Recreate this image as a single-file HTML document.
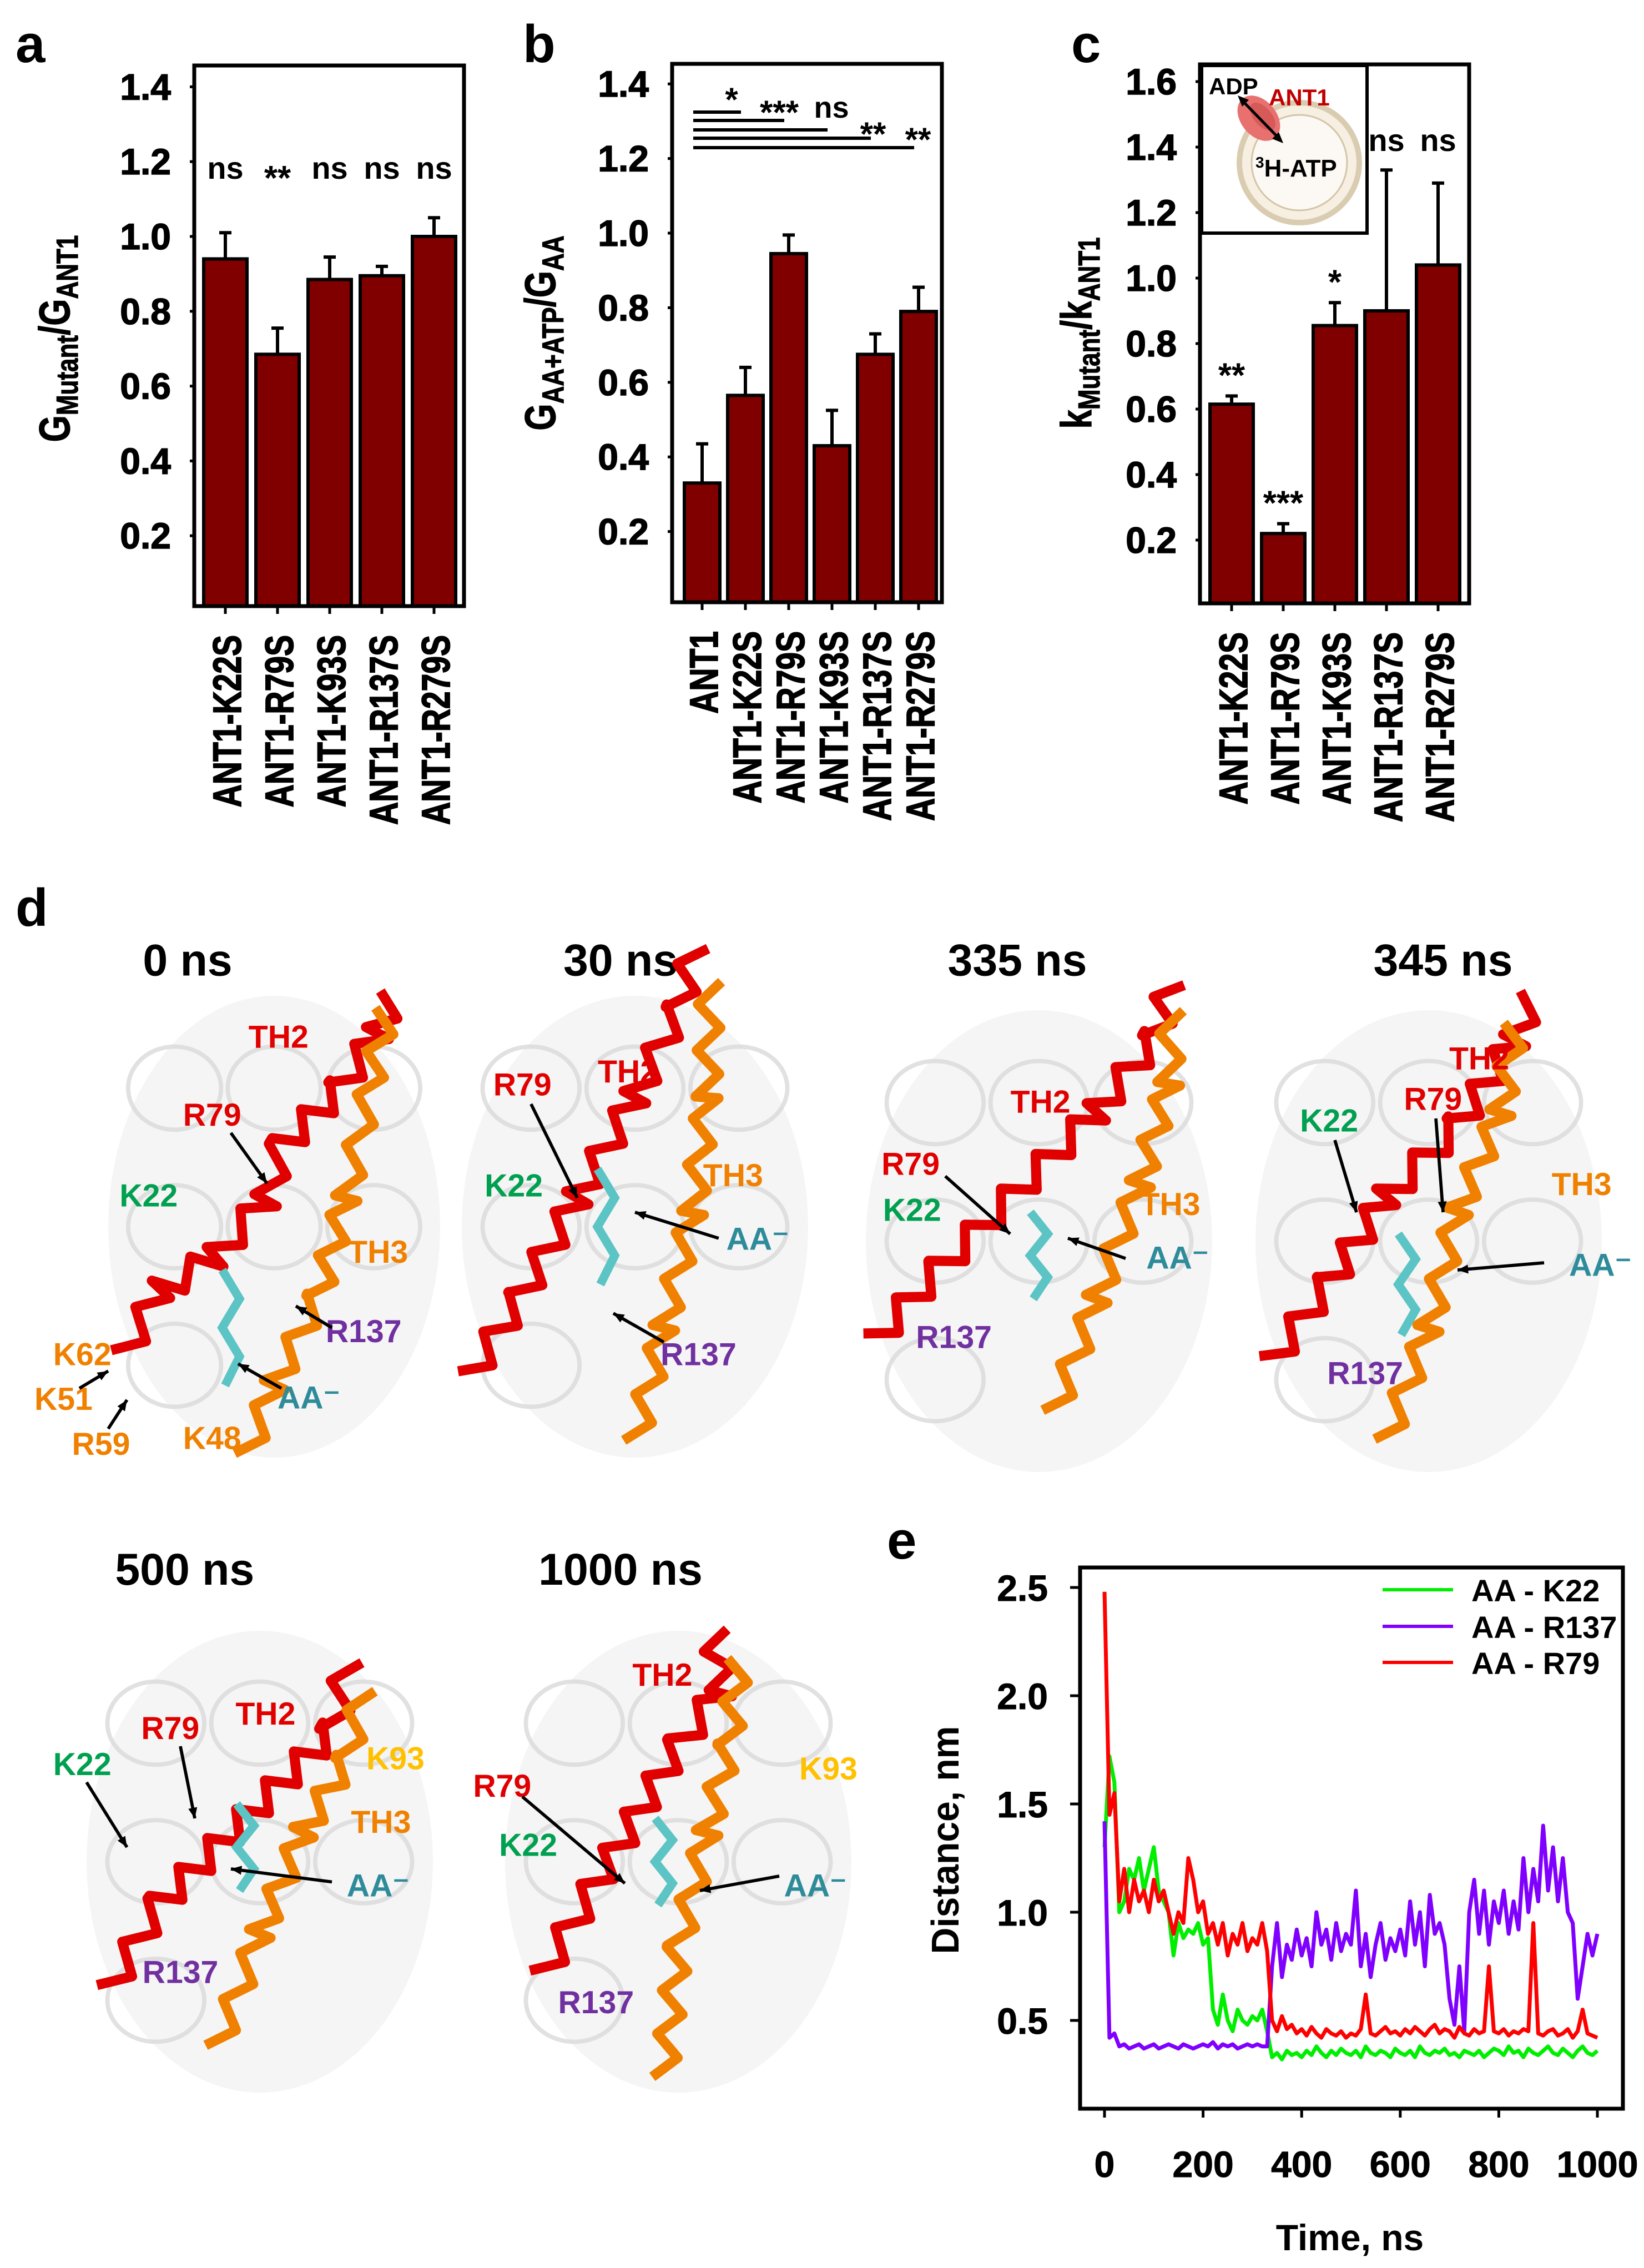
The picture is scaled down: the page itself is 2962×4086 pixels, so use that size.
<!DOCTYPE html>
<html><head><meta charset="utf-8"><title>ANT1 figure</title>
<style>
html,body{margin:0;padding:0;background:#fff;}
svg{display:block;font-family:"Liberation Sans",Arial,sans-serif;font-weight:bold;}
</style></head>
<body>
<svg id="fig" width="2962" height="4086" viewBox="0 0 2962 4086" xmlns="http://www.w3.org/2000/svg">
<rect width="2962" height="4086" fill="#fff"/>
<text x="28" y="112" font-size="96">a</text>
<text x="942" y="112" font-size="96">b</text>
<text x="1930" y="112" font-size="96">c</text>
<text x="28" y="1668" font-size="96">d</text>
<text x="1598" y="2808" font-size="96">e</text>

<g id="pa"></g>
<g id="pb"></g>
<g id="pc"></g>

<g>
  <rect x="2165" y="118" width="298" height="302" fill="#fff" stroke="#000" stroke-width="6"/>
  <circle cx="2341" cy="293" r="108" fill="#f6efe2" stroke="#d9ccb0" stroke-width="10"/>
  <circle cx="2341" cy="293" r="86" fill="#fcf9f4" stroke="#d3c5a8" stroke-width="3"/>
  <ellipse cx="2268" cy="213" rx="32" ry="46" transform="rotate(-40 2268 213)" fill="#e8716f"/>
  <ellipse cx="2275" cy="210" rx="16" ry="30" transform="rotate(-40 2275 210)" fill="#d55a58"/>
  <line x1="2237" y1="180" x2="2307" y2="252" stroke="#000" stroke-width="5"/>
  <polygon points="2230,172 2250,180 2238,192" fill="#000"/>
  <polygon points="2312,258 2292,250 2304,238" fill="#000"/>
  <text x="2178" y="170" font-size="42">ADP</text>
  <text x="2286" y="190" font-size="42" fill="#c00000">ANT1</text>
  <text x="2262" y="318" font-size="44"><tspan font-size="28" dy="-16">3</tspan><tspan dy="16">H-ATP</tspan></text>
</g>

<g id="pd" transform="scale(2.6)"></g>
<g id="pe"></g>
</svg>

<script>
const NS="http://www.w3.org/2000/svg";
function mk(parent,tag,attrs){const e=document.createElementNS(NS,tag);for(const k in attrs)e.setAttribute(k,attrs[k]);parent.appendChild(e);return e;}

const aCats=["ANT1-K22S","ANT1-R79S","ANT1-K93S","ANT1-R137S","ANT1-R279S"];
const aVals=[0.94,0.685,0.885,0.895,1.0];
const aErr=[0.07,0.07,0.06,0.025,0.05];
const aSig=["ns","**","ns","ns","ns"];
const aTicks=["0.2","0.4","0.6","0.8","1.0","1.2","1.4"];

const bCats=["ANT1","ANT1-K22S","ANT1-R79S","ANT1-K93S","ANT1-R137S","ANT1-R279S"];
const bVals=[0.33,0.565,0.945,0.43,0.675,0.79];
const bErr=[0.105,0.075,0.05,0.095,0.055,0.065];
const bTicks=["0.2","0.4","0.6","0.8","1.0","1.2","1.4"];
const bCompTo=[1,2,3,4,5];
const bCompSig=["*","***","ns","**","**"];

const cCats=["ANT1-K22S","ANT1-R79S","ANT1-K93S","ANT1-R137S","ANT1-R279S"];
const cVals=[0.615,0.22,0.855,0.9,1.04];
const cErr=[0.025,0.03,0.07,0.43,0.25];
const cSig=["**","***","*","ns","ns"];
const cTicks=["0.2","0.4","0.6","0.8","1.0","1.2","1.4","1.6"];

function barChart(g,cfg){
  const y=v=>cfg.y0-v*cfg.unit;
  cfg.vals.forEach((v,i)=>{
    const cx=cfg.x0+i*cfg.step;
    const r=mk(g,'rect',{x:cx-cfg.bw/2,y:y(v),width:cfg.bw,height:cfg.bottom-y(v),fill:'#800000',stroke:'#000','stroke-width':6});
    
    
    const top=y(v+cfg.err[i]);
    const eb=mk(g,'path',{d:`M${cx},${y(v)} V${top} M${cx-11},${top} H${cx+11}`,stroke:'#000','stroke-width':6,fill:'none'});
    
    
    mk(g,'line',{x1:cx,y1:cfg.bottom,x2:cx,y2:cfg.bottom+14,stroke:'#000','stroke-width':5});
    const t=mk(g,'text',{transform:`translate(${cx+28},${cfg.bottom+52}) rotate(-90) scale(1,1.25)`,'font-size':57,'text-anchor':'end','stroke':'#000','stroke-width':1.5});
    t.textContent=cfg.cats[i];
    
    
    if(cfg.sig){
      const s=cfg.sig[i];
      const isStar=s.indexOf('*')>=0;
      let sy=cfg.sigY?cfg.sigY(v,cfg.err[i],y):cfg.sigFixed;
      if(!isStar && cfg.nsFixed) sy=cfg.nsFixed;
      const st=mk(g,'text',{x:cx,y:isStar?sy+20:sy,'font-size':isStar?62:56,'text-anchor':'middle'});
      st.textContent=s;
      
      
    }
  });
  const bx=mk(g,'rect',{x:cfg.left,y:cfg.top,width:cfg.right-cfg.left,height:cfg.bottom-cfg.top,fill:'none',stroke:'#000','stroke-width':7});
  
  
  cfg.ticks.forEach(tl=>{
    const v=parseFloat(tl);
    mk(g,'line',{x1:cfg.left-8,y1:y(v),x2:cfg.left,y2:y(v),stroke:'#000','stroke-width':5});
    const t=mk(g,'text',{x:cfg.left-42,y:y(v)+23,'font-size':66,'text-anchor':'end','stroke':'#000','stroke-width':1.5});
    t.textContent=tl;
    
    
  });
}

barChart(document.getElementById('pa'),{cats:aCats,vals:aVals,err:aErr,ticks:aTicks,sig:aSig,
  left:350,right:836,top:118,bottom:1092,y0:1100,unit:674,x0:406,step:94,bw:78,sigFixed:322});
barChart(document.getElementById('pb'),{cats:bCats,vals:bVals,err:bErr,ticks:bTicks,
  left:1211,right:1697,top:115,bottom:1085,y0:1092,unit:672,x0:1265,step:78,bw:64});
barChart(document.getElementById('pc'),{cats:cCats,vals:cVals,err:cErr,ticks:cTicks,sig:cSig,
  left:2162,right:2647,top:116,bottom:1087,y0:1091,unit:590,x0:2219,step:93,bw:78,nsFixed:272,
  sigY:(v,e,y)=>y(v+e)-36});

(function(){
  const g=document.getElementById('pb');
  const lineY=[202,217,234,249,266];
  const x0=1265, step=78;
  bCompTo.forEach((j,i)=>{
    const xe=x0+j*step-8;
    const l=mk(g,'line',{x1:1249,y1:lineY[i],x2:xe,y2:lineY[i],stroke:'#000','stroke-width':6});
    
    
  });
  const lab=[[1318,200],[1404,223],[1498,212],[1573,262],[1654,272]];
  bCompSig.forEach((s,i)=>{
    const t=mk(g,'text',{x:lab[i][0],y:lab[i][1],'font-size':s==='ns'?54:60,'text-anchor':'middle'});
    t.textContent=s;
    
    
  });
})();

(function(){
  const svg=document.getElementById('fig');
  function ytitle(x,y,main,sub,main2,sub2,name){
    const t=mk(svg,'text',{transform:`translate(${x},${y}) rotate(-90) scale(1,1.25)`,'font-size':62,'text-anchor':'middle','stroke':'#000','stroke-width':1});
    const parts=[[main,62,0],[sub,44,12],['/'+main2,62,-12],[sub2,44,12]];
    parts.forEach(p=>{const ts=mk(t,'tspan',{'font-size':p[1],dy:p[2]});ts.textContent=p[0];});
    
    
  }
  ytitle(125,610,'G','Mutant','G','ANT1','y-axis-title-a');
  ytitle(1000,600,'G','AA+ATP','G','AA','y-axis-title-b');
  ytitle(1966,600,'k','Mutant','k','ANT1','y-axis-title-c');
})();

const eTimes=[0,10,20,30,40,50,60,70,80,90,100,110,120,130,140,150,160,170,180,190,200,210,220,230,240,250,260,270,280,290,300,310,320,330,340,350,360,370,380,390,400,410,420,430,440,450,460,470,480,490,500,510,520,530,540,550,560,570,580,590,600,610,620,630,640,650,660,670,680,690,700,710,720,730,740,750,760,770,780,790,800,810,820,830,840,850,860,870,880,890,900,910,920,930,940,950,960,970,980,990,1000];
const k22=[1.30,1.72,1.60,1.00,1.05,1.20,1.15,1.25,1.10,1.20,1.30,1.10,1.05,1.00,0.80,0.95,0.88,0.92,0.90,0.95,0.85,0.88,0.55,0.48,0.62,0.50,0.45,0.55,0.50,0.48,0.52,0.50,0.55,0.45,0.33,0.35,0.32,0.36,0.34,0.35,0.33,0.36,0.34,0.38,0.35,0.33,0.36,0.34,0.37,0.35,0.34,0.36,0.33,0.38,0.35,0.34,0.36,0.35,0.33,0.37,0.35,0.34,0.36,0.33,0.38,0.35,0.34,0.36,0.35,0.37,0.34,0.35,0.33,0.36,0.35,0.34,0.36,0.33,0.35,0.37,0.36,0.34,0.38,0.35,0.36,0.33,0.37,0.35,0.34,0.36,0.38,0.35,0.34,0.37,0.35,0.33,0.36,0.38,0.35,0.34,0.36];
const r137=[1.42,0.42,0.44,0.38,0.39,0.37,0.38,0.39,0.37,0.38,0.39,0.37,0.38,0.39,0.38,0.37,0.39,0.38,0.37,0.38,0.39,0.38,0.40,0.37,0.39,0.38,0.39,0.37,0.38,0.39,0.38,0.39,0.38,0.38,0.75,0.95,0.70,0.85,0.78,0.92,0.80,0.88,0.75,1.00,0.85,0.92,0.78,0.95,0.82,0.90,0.85,1.10,0.75,0.90,0.70,0.85,0.95,0.78,0.88,0.82,0.92,0.80,1.05,0.85,1.00,0.75,1.08,0.90,0.95,0.85,0.60,0.48,0.75,0.45,1.00,1.15,0.90,1.10,0.85,1.05,0.95,1.10,0.90,1.05,0.92,1.25,1.00,1.20,1.05,1.40,1.10,1.30,1.05,1.25,1.00,0.95,0.60,0.75,0.90,0.80,0.90];
const r79=[2.48,1.45,1.55,1.05,1.20,1.00,1.15,1.05,1.10,1.00,1.15,1.05,1.10,1.00,0.90,1.00,0.95,1.25,1.15,1.00,1.05,0.90,0.95,0.85,0.95,0.80,0.90,0.85,0.95,0.82,0.88,0.85,0.95,0.82,0.50,0.45,0.52,0.46,0.48,0.44,0.46,0.43,0.47,0.44,0.42,0.46,0.44,0.43,0.45,0.42,0.44,0.43,0.46,0.62,0.44,0.43,0.45,0.47,0.44,0.45,0.43,0.46,0.44,0.47,0.45,0.43,0.46,0.48,0.44,0.46,0.45,0.42,0.47,0.44,0.43,0.46,0.44,0.45,0.75,0.45,0.44,0.46,0.43,0.45,0.44,0.46,0.45,0.95,0.44,0.43,0.45,0.46,0.43,0.44,0.46,0.42,0.45,0.55,0.44,0.43,0.42];
const eXTicks=["0","200","400","600","800","1000"];
const eYTicks=["0.5","1.0","1.5","2.0","2.5"];
const eSeriesNames=["AA - K22","AA - R137","AA - R79"];

(function(){
  const g=document.getElementById('pe');
  const L=1946,R=2924,T=2824,B=3799;
  const xs=t=>1990+t*0.888;
  const ys=d=>3640-(d-0.5)*390;
  const series=[[k22,'#00ee00','line-aa-k22'],[r137,'#8000ff','line-aa-r137'],[r79,'#ff0000','line-aa-r79']];
  series.forEach(s=>{
    const d=s[0].map((v,i)=>(i?'L':'M')+xs(eTimes[i]).toFixed(1)+','+ys(v).toFixed(1)).join(' ');
    const p=mk(g,'path',{d:d,fill:'none',stroke:s[1],'stroke-width':7,'stroke-linejoin':'round'});
    
    
  });
  const f=mk(g,'rect',{x:L,y:T,width:R-L,height:B-T,fill:'none',stroke:'#000','stroke-width':7});
  
  
  eXTicks.forEach(tl=>{
    const x=xs(parseFloat(tl));
    mk(g,'line',{x1:x,y1:B,x2:x,y2:B+16,stroke:'#000','stroke-width':5});
    const t=mk(g,'text',{x:x,y:3922,'font-size':66,'text-anchor':'middle','stroke':'#000','stroke-width':1});
    t.textContent=tl;
    
    
  });
  eYTicks.forEach(tl=>{
    const y=ys(parseFloat(tl));
    mk(g,'line',{x1:L-18,y1:y,x2:L,y2:y,stroke:'#000','stroke-width':5});
    const t=mk(g,'text',{x:1888,y:y+24,'font-size':66,'text-anchor':'end','stroke':'#000','stroke-width':1});
    t.textContent=tl;
    
    
  });
  const xt=mk(g,'text',{x:2432,y:4054,'font-size':66,'text-anchor':'middle'});
  xt.textContent='Time, ns';
  
  
  const yt=mk(g,'text',{transform:'translate(1727,3315) rotate(-90) scale(1,1.05)','font-size':66,'text-anchor':'middle'});
  yt.textContent='Distance, nm';
  
  
  const ly=[2864,2930,2995];
  eSeriesNames.forEach((n,i)=>{
    const l=mk(g,'line',{x1:2491,y1:ly[i],x2:2618,y2:ly[i],stroke:series[i][1],'stroke-width':6});
    
    
    const t=mk(g,'text',{x:2651,y:ly[i]+21,'font-size':56});
    t.textContent=n;
    
    
  });
})();

(function(){
  const g=document.getElementById('pd');
  function helix(pts,color,w){
    let d='';
    for(let i=0;i<pts.length-1;i++){
      const x1=pts[i][0],y1=pts[i][1],x2=pts[i+1][0],y2=pts[i+1][1];
      const dx=x2-x1,dy=y2-y1,len=Math.hypot(dx,dy),nx=-dy/len,ny=dx/len;
      const n=Math.max(2,Math.round(len/16));
      for(let k=0;k<=n;k++){
        const t=k/n,a=(k%2?1:-1)*w;
        const x=x1+dx*t+nx*a,y=y1+dy*t+ny*a;
        d+=(d?'L':'M')+x.toFixed(1)+','+y.toFixed(1)+' ';
      }
    }
    return mk(g,'path',{d:d,fill:'none',stroke:color,'stroke-width':7,'stroke-linejoin':'round'});
  }
  function blob(cx,cy,rx,ry){
    mk(g,'ellipse',{cx:cx,cy:cy,rx:rx,ry:ry,fill:'#efefef',opacity:0.6});
    for(let i=0;i<7;i++){
      mk(g,'ellipse',{cx:cx-rx*0.6+(i%3)*rx*0.6,cy:cy-ry*0.6+Math.floor(i/3)*ry*0.6,rx:rx*0.28,ry:ry*0.18,fill:'none',stroke:'#dadada','stroke-width':3,opacity:0.8});
    }
  }
  function lab(x,y,txt,col,name){
    const t=mk(g,'text',{x:x,y:y+8,'font-size':22,fill:col,'text-anchor':'middle'});
    t.textContent=txt;
    
    
  }
  function arrow(x1,y1,x2,y2){
    mk(g,'line',{x1:x1,y1:y1,x2:x2,y2:y2,stroke:'#000','stroke-width':2.2});
    const a=Math.atan2(y2-y1,x2-x1),s=8;
    mk(g,'polygon',{points:`${x2},${y2} ${x2-s*Math.cos(a-0.4)},${y2-s*Math.sin(a-0.4)} ${x2-s*Math.cos(a+0.4)},${y2-s*Math.sin(a+0.4)}`,fill:'#000'});
  }
  function ligand(cx,cy,h){
    mk(g,'path',{d:`M${cx-6},${cy-h} L${cx+6},${cy-h/2} L${cx-6},${cy} L${cx+6},${cy+h/2} L${cx-4},${cy+h}`,fill:'none',stroke:'#5cc4c4','stroke-width':6});
  }
  const titles=[[130,676,'0 ns'],[430,676,'30 ns'],[705,676,'335 ns'],[1000,676,'345 ns'],[128,1098,'500 ns'],[430,1098,'1000 ns']];
  titles.forEach(t=>{const e=mk(g,'text',{x:t[0],y:t[1],'font-size':31,'text-anchor':'middle'});e.textContent=t[2];
    
    });
  const RED='#e00000',OR='#f08000',GR='#00a050',PU='#7030a0',TE='#2e8b9a';
  blob(190,850,115,160);
  helix([[85,940],[110,895],[150,870],[185,830],[195,795],[235,755],[262,715],[272,690]],RED,9);
  helix([[170,1010],[190,960],[220,900],[240,830],[255,760],[268,700]],OR,8);
  ligand(160,920,40);
  lab(193,718,'TH2',RED,'label-th2');lab(147,772,'R79',RED,'label-r79');lab(103,828,'K22',GR,'label-k22');
  lab(262,867,'TH3',OR,'label-th3');lab(57,938,'K62',OR,'label-k62');lab(252,922,'R137',PU,'label-r137');
  lab(214,968,'AA\u207B',TE,'label-aa');lab(44,969,'K51',OR,'label-k51');lab(70,1000,'R59',OR,'label-r59');lab(147,996,'K48',OR,'label-k48');
  arrow(160,785,185,820);arrow(230,920,205,905);arrow(195,962,165,945);arrow(55,962,75,950);arrow(75,990,88,970);
  blob(440,850,120,160);
  helix([[325,955],[360,900],[400,830],[440,760],[470,700],[482,655]],RED,9);
  helix([[440,1000],[460,920],[480,840],[490,760],[492,680]],OR,8);
  ligand(420,850,40);
  lab(362,751,'R79',RED,'label-r79');lab(435,742,'TH2',RED,'label-th2');lab(356,821,'K22',GR,'label-k22');
  lab(508,814,'TH3',OR,'label-th3');lab(525,858,'AA\u207B',TE,'label-aa');lab(484,938,'R137',PU,'label-r137');
  arrow(368,765,400,830);arrow(498,858,440,840);arrow(460,930,425,910);
  blob(720,860,120,160);
  helix([[605,930],[650,880],[700,830],[760,770],[800,720],[812,680]],RED,9);
  helix([[730,980],[760,900],[790,820],[810,750],[812,700]],OR,8);
  ligand(720,870,30);
  lab(721,763,'TH2',RED,'label-th2');lab(631,806,'R79',RED,'label-r79');lab(632,838,'K22',GR,'label-k22');
  lab(811,834,'TH3',OR,'label-th3');lab(816,871,'AA\u207B',TE,'label-aa');lab(661,926,'R137',PU,'label-r137');
  arrow(655,815,700,855);arrow(780,872,740,858);
  blob(990,860,120,160);
  helix([[880,945],[920,890],[960,830],[1010,780],[1050,720],[1062,690]],RED,9);
  helix([[960,1000],[990,920],[1010,840],[1040,770],[1050,710]],OR,8);
  ligand(975,890,35);
  lab(921,776,'K22',GR,'label-k22');lab(993,761,'R79',RED,'label-r79');lab(1025,733,'TH2',RED,'label-th2');
  lab(1096,820,'TH3',OR,'label-th3');lab(1109,876,'AA\u207B',TE,'label-aa');lab(946,951,'R137',PU,'label-r137');
  arrow(925,790,940,840);arrow(995,775,1000,840);arrow(1070,875,1010,880);
  blob(180,1290,120,160);
  helix([[75,1380],[110,1320],[150,1280],[190,1240],[230,1200],[242,1150]],RED,9);
  helix([[150,1420],[180,1340],[210,1270],[240,1220],[252,1170]],OR,8);
  ligand(170,1280,30);
  lab(184,1187,'TH2',RED,'label-th2');lab(118,1197,'R79',RED,'label-r79');lab(57,1222,'K22',GR,'label-k22');
  lab(274,1218,'K93','#ffc000','label-k93');lab(264,1262,'TH3',OR,'label-th3');lab(262,1306,'AA\u207B',TE,'label-aa');lab(125,1366,'R137',PU,'label-r137');
  arrow(60,1235,88,1280);arrow(125,1210,135,1260);arrow(230,1304,160,1295);
  blob(470,1290,120,160);
  helix([[375,1370],[410,1310],[440,1260],[470,1210],[500,1170],[495,1130]],RED,9);
  helix([[460,1440],[470,1350],[490,1270],[505,1210],[512,1150]],OR,8);
  ligand(460,1290,30);
  lab(459,1160,'TH2',RED,'label-th2');lab(348,1237,'R79',RED,'label-r79');lab(366,1278,'K22',GR,'label-k22');
  lab(574,1225,'K93','#ffc000','label-k93');lab(565,1306,'AA\u207B',TE,'label-aa');lab(413,1387,'R137',PU,'label-r137');
  arrow(362,1245,433,1305);arrow(540,1300,485,1310);
})();
</script>
</body></html>
